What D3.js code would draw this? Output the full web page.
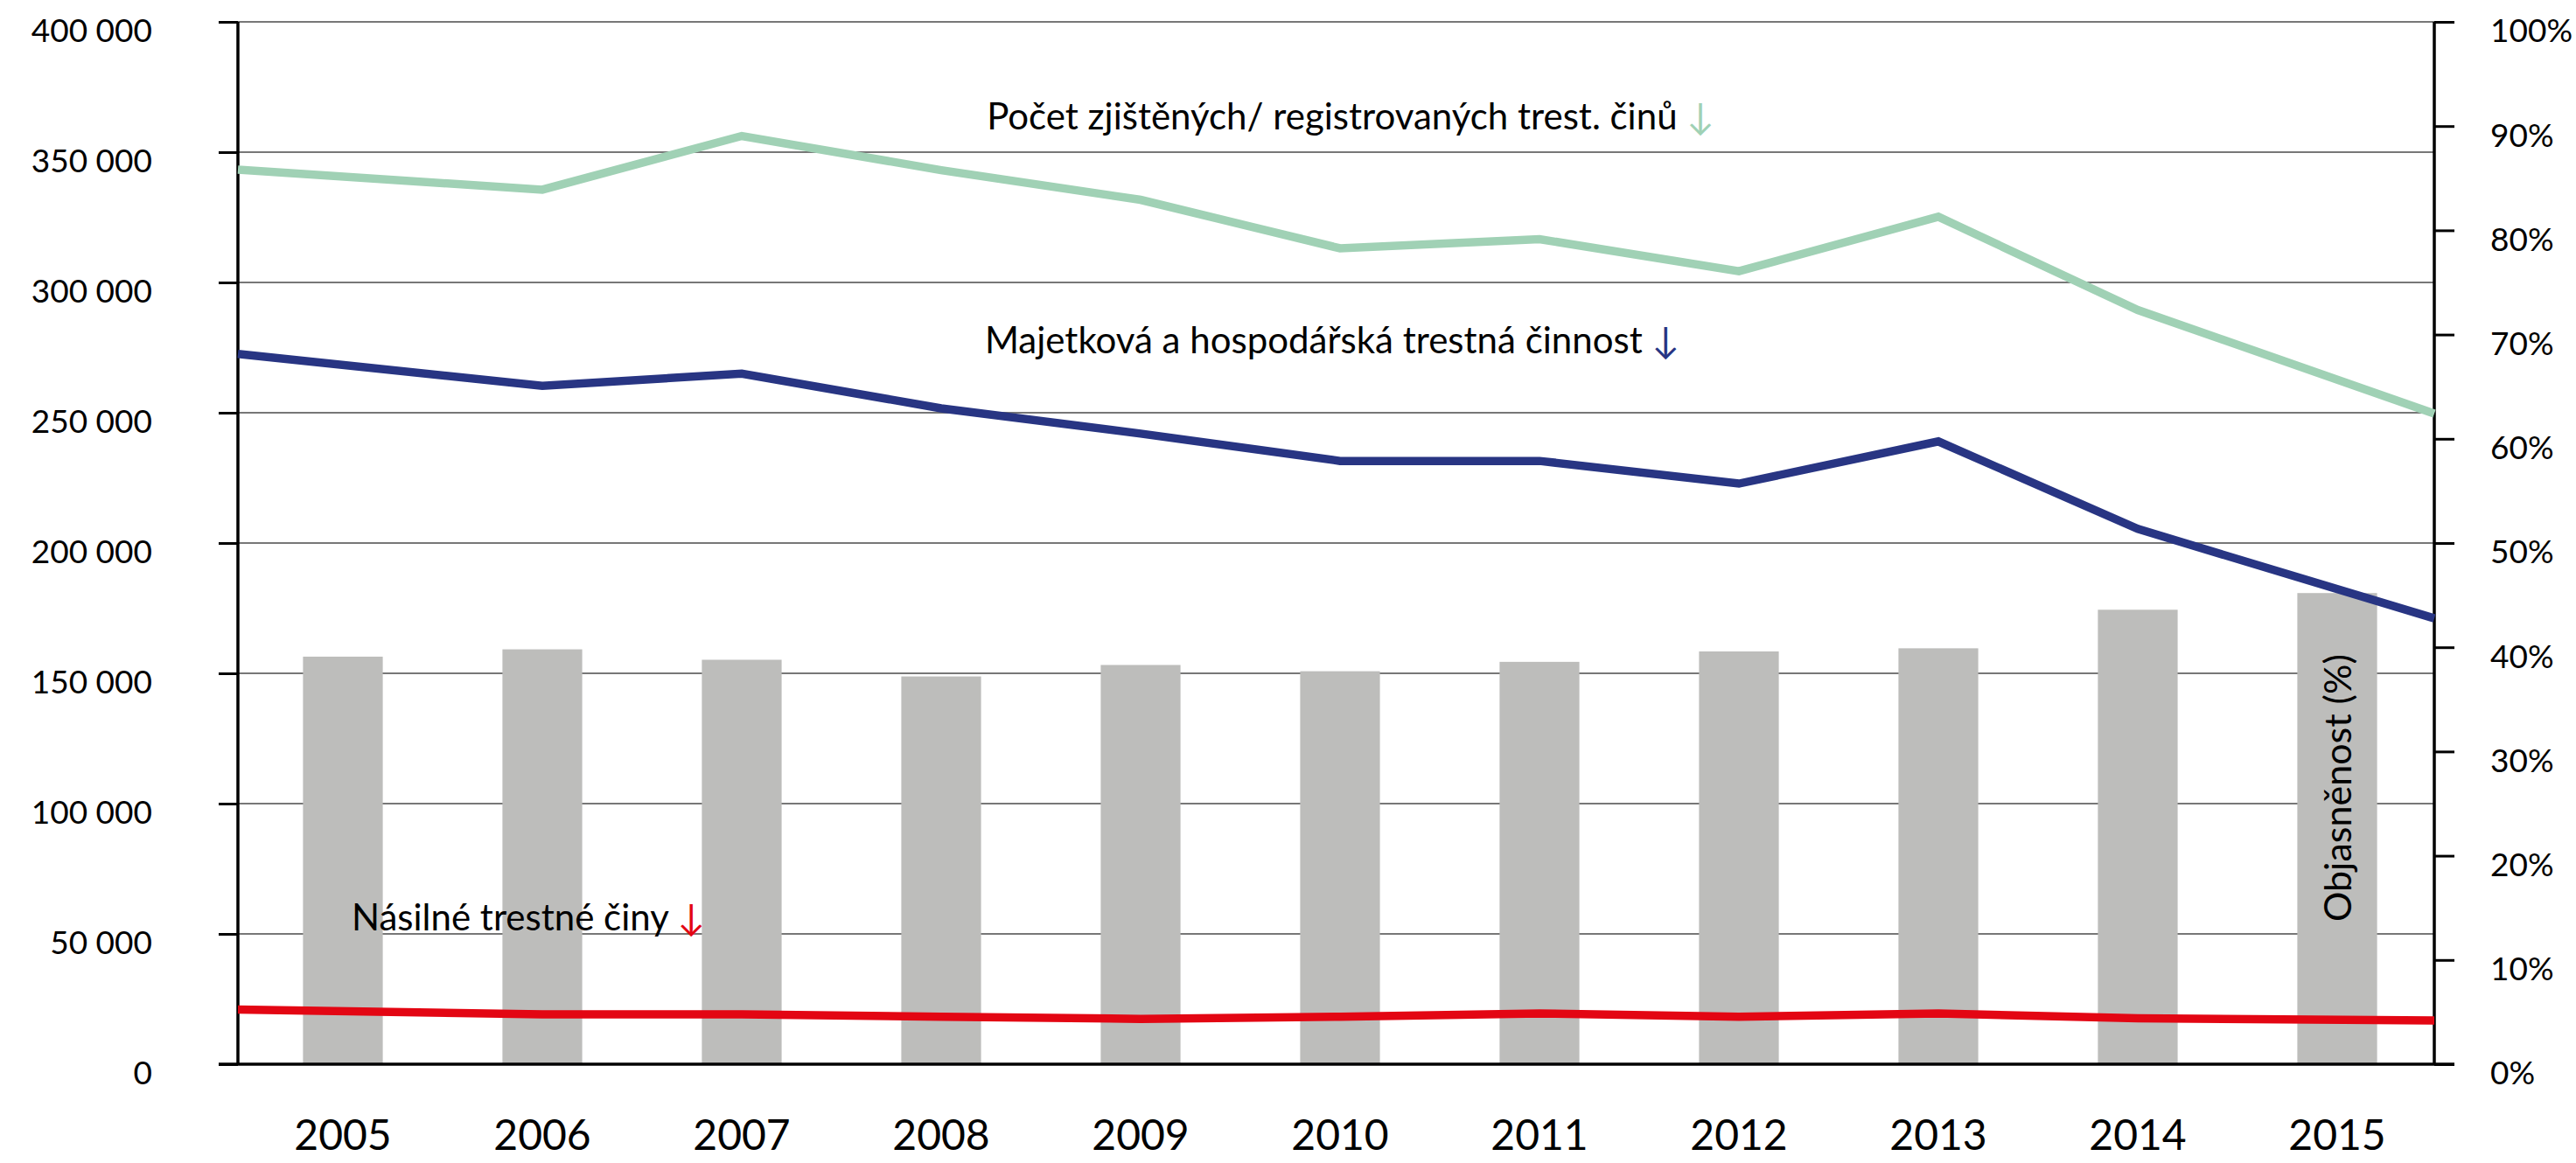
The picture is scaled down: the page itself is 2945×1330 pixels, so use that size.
<!DOCTYPE html>
<html>
<head>
<meta charset="utf-8">
<script src="https://cdn.jsdelivr.net/npm/d3@7"></script>
<style>
  body { margin: 0; background: #fff; }
  svg { display: block; font-family: Lato, "Open Sans", sans-serif; }
</style>
</head>
<body>
<svg width="2945" height="1330"></svg>
<script>
// roky
const roky = ["2005", "2006", "2007", "2008", "2009", "2010", "2011", "2012", "2013", "2014", "2015"];

// počty trestných činů (levá osa)
const registrovane = [343300, 335600, 356200, 343100, 331700, 313100, 316600, 304300, 325200, 289400, 249700];
const majetkove = [272600, 260300, 265000, 251700, 242000, 231500, 231500, 222800, 239000, 205400, 171100];
const nasilne = [21000, 19100, 19100, 18200, 17400, 18200, 19500, 18200, 19500, 17600, 16800];

// objasněnost v % (pravá osa)
const objasnenost = [39.1, 39.8, 38.8, 37.2, 38.3, 37.7, 38.6, 39.6, 39.9, 43.6, 45.2];

// popisky os
const levaOsaHodnoty = [0, 50000, 100000, 150000, 200000, 250000, 300000, 350000, 400000];
const levaOsaPopisky = ["0", "50 000", "100 000", "150 000", "200 000", "250 000", "300 000", "350 000", "400 000"];
const pravaOsaHodnoty = [0, 10, 20, 30, 40, 50, 60, 70, 80, 90, 100];
const pravaOsaPopisky = ["0%", "10%", "20%", "30%", "40%", "50%", "60%", "70%", "80%", "90%", "100%"];

const svg = d3.select("svg");

const vlevo = 272, vpravo = 2783, nahore = 25, dole = 1217;

const x = d3.scaleBand().domain(roky).range([278, 2786]).padding(0);
const yL = d3.scaleLinear().domain([0, 400000]).range([dole, nahore]);
const yR = d3.scaleLinear().domain([0, 100]).range([dole, nahore]);

// mřížka
svg.append("g")
  .selectAll("line")
  .data(levaOsaHodnoty.slice(1))
  .enter()
  .append("line")
  .attr("x1", vlevo)
  .attr("x2", vpravo)
  .attr("y1", d => yL(d))
  .attr("y2", d => yL(d))
  .attr("stroke", "#4a4a4a")
  .attr("stroke-width", 1.6);

// sloupce objasněnosti
const sirka = x.bandwidth() * 0.4;
svg.append("g")
  .selectAll("rect")
  .data(objasnenost)
  .enter()
  .append("rect")
  .attr("x", (d, i) => x(roky[i]) + x.bandwidth() / 2 - sirka / 2)
  .attr("y", d => yR(d))
  .attr("width", sirka)
  .attr("height", d => dole - yR(d))
  .attr("fill", "#bdbdbb");

// popisek sloupců
svg.append("text")
  .attr("transform", `translate(${x("2015") + x.bandwidth() / 2 + 16},901) rotate(-90)`)
  .attr("text-anchor", "middle")
  .attr("font-size", 43)
  .attr("fill", "#000")
  .text("Objasněnost (%)");

// osy
const osaL = d3.axisLeft(yL).tickValues(levaOsaHodnoty)
  .tickFormat((d, i) => levaOsaPopisky[i]).tickSize(22).tickPadding(76);
const gL = svg.append("g").attr("transform", `translate(${vlevo},0)`).call(osaL);

const osaR = d3.axisRight(yR).tickValues(pravaOsaHodnoty)
  .tickFormat((d, i) => pravaOsaPopisky[i]).tickSize(23).tickPadding(41);
const gR = svg.append("g").attr("transform", `translate(${vpravo},0)`).call(osaR);

[gL, gR].forEach(g => {
  g.select(".domain").attr("stroke", "#000").attr("stroke-width", 3.5);
  g.selectAll(".tick line").attr("stroke", "#000").attr("stroke-width", 3);
  g.selectAll(".tick text")
    .attr("font-size", 37)
    .attr("font-family", "Lato, 'Open Sans', sans-serif")
    .attr("fill", "#000")
    .attr("dy", "0.62em");
});
gL.select(".domain").attr("d", `M0,${nahore}V${dole}`);
gR.select(".domain").attr("d", `M0,${nahore}V${dole}`);

// vodorovná osa
svg.append("line")
  .attr("x1", vlevo - 22)
  .attr("x2", vpravo + 23)
  .attr("y1", dole)
  .attr("y2", dole)
  .attr("stroke", "#000")
  .attr("stroke-width", 3.5);

const osaX = d3.axisBottom(x).tickSize(0).tickPadding(64);
const gX = svg.append("g").attr("transform", `translate(0,${dole})`).call(osaX);
gX.select(".domain").remove();
gX.selectAll(".tick text")
  .attr("font-size", 48)
  .attr("font-family", "Lato, 'Open Sans', sans-serif")
  .attr("fill", "#000");

// čáry
const n = roky.length;
const lx = i => i === 0 ? vlevo : (i === n - 1 ? vpravo : x(roky[i]) + x.bandwidth() / 2);
const cara = d3.line().x((d, i) => lx(i)).y(d => yL(d));

const serie = [
  { data: registrovane, barva: "#a0d1b5" },
  { data: majetkove, barva: "#283583" },
  { data: nasilne, barva: "#e30613" }
];

svg.append("g")
  .selectAll("path")
  .data(serie)
  .enter()
  .append("path")
  .attr("d", d => cara(d.data))
  .attr("fill", "none")
  .attr("stroke", d => d.barva)
  .attr("stroke-width", 9.5)
  .attr("stroke-linejoin", "miter");

// popisky řad
const popisky = [
  { text: "Počet zjištěných/ registrovaných trest. činů", barva: "#a0d1b5", x: 1544, y: 148 },
  { text: "Majetková a hospodářská trestná činnost", barva: "#283583", x: 1523, y: 404 },
  { text: "Násilné trestné činy", barva: "#e30613", x: 604, y: 1064 }
];

const t = svg.append("g")
  .selectAll("text")
  .data(popisky)
  .enter()
  .append("text")
  .attr("x", d => d.x)
  .attr("y", d => d.y)
  .attr("text-anchor", "middle")
  .attr("font-size", 42)
  .attr("fill", "#000");

t.append("tspan").text(d => d.text + " ");
t.append("tspan").attr("fill", d => d.barva).text("↓");
</script>
</body>
</html>
